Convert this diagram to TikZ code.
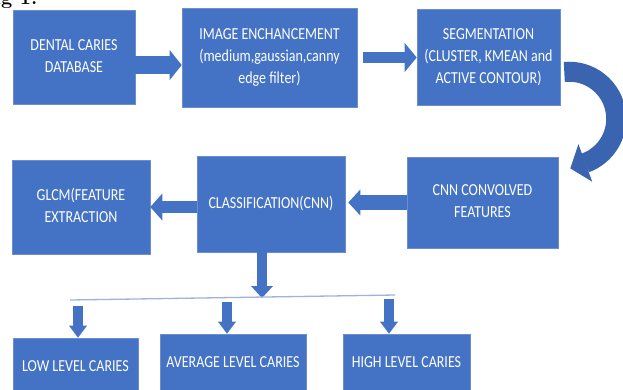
\documentclass[tikz,border=0pt]{standalone}
\usepackage{fontspec}
\usepackage{graphicx}
\setsansfont{Carlito}
\usetikzlibrary{arrows.meta,calc}
\definecolor{boxblue}{HTML}{4472C4}
\definecolor{boxedge}{HTML}{6C8ED0}
\definecolor{turnblue}{HTML}{3A64B0}
\definecolor{raillight}{HTML}{9CB3DF}
\newcommand{\tall}[1]{\scalebox{1}[1.2]{\begin{tabular}{@{}c@{}}#1\end{tabular}}}
\tikzset{stage/.style={rectangle,draw=boxedge,fill=boxblue,line width=.6pt,inner sep=0pt,text=white,font=\sffamily\fontsize{14}{18.3}\selectfont},flow/.style 2 args={draw=boxblue,line width=#1,-{Triangle[length=12pt,width=#2,line width=0pt]}},turn/.style={draw=turnblue,line width=20pt,-{Triangle[length=16pt,width=40pt,line width=0pt]}},rail/.style={raillight,line width=1.3pt}}

\begin{document}
\begin{tikzpicture}[x=1pt,y=-1pt]
\clip (0,0) rectangle (623,389);
\node[anchor=base east,font=\bfseries\fontsize{20}{20}\selectfont] (figlabel) at (41,4) {Fig 1.};
% top row
\node[stage,minimum width=122pt,minimum height=94pt] (db) at (74,57) {\tall{DENTAL CARIES\\DATABASE}};
\node[stage,minimum width=175pt,minimum height=99pt] (enh) at (269.5,57.5) {\tall{IMAGE ENCHANCEMENT\\(medium,gaussian,canny\\edge filter)}};
\node[stage,minimum width=143pt,minimum height=96pt] (seg) at (488.5,57) {\tall{SEGMENTATION\\(CLUSTER, KMEAN and\\ACTIVE CONTOUR)}};
% middle row
\node[stage,minimum width=151pt,minimum height=91pt] (cnn) at (482.5,202.5) {\tall{CNN CONVOLVED\\FEATURES}};
\node[stage,minimum width=148pt,minimum height=96pt] (cls) at (271,204) {\tall{CLASSIFICATION(CNN)}};
\node[stage,minimum width=138pt,minimum height=94pt] (glcm) at (81,207) {\tall{GLCM(FEATURE\\EXTRACTION}};
% bottom row
\node[stage,minimum width=125pt,minimum height=58pt] (low) at (75.5,367) {\tall{LOW LEVEL CARIES}};
\node[stage,minimum width=146pt,minimum height=58pt] (avg) at (233,363) {\tall{AVERAGE LEVEL CARIES}};
\node[stage,minimum width=127pt,minimum height=58pt] (high) at (406.5,363) {\tall{HIGH LEVEL CARIES}};
\coordinate (hub) at (262,298);
\coordinate (toLow) at (78,306);
\coordinate (toAvg) at (227,302);
\coordinate (toHigh) at (389,299);
\draw[flow={18pt}{30pt}] ([yshift=-8pt]db.east) -- ([yshift=-8pt]db.east -| enh.west);
\draw[flow={11pt}{29pt}] ([xshift=6pt]enh.east) -- (enh.east -| seg.west);
\draw[turn] ([xshift=4pt,yshift=-15pt]seg.east) arc[start angle=-96,end angle=70,radius=47] -- ++(-15,5.5);
\draw[flow={15pt}{26pt}] (cnn.west) -- ([xshift=3pt]cls.east |- cnn.west);
\draw[flow={12pt}{27pt}] ([yshift=-3pt]cls.west) -- ([yshift=-3pt]cls.west -| glcm.east);
\draw[flow={10pt}{22pt}] (hub |- cls.south) -- (hub);
\draw[rail] (70,300) -- (395,295);
\draw[flow={10pt}{18pt}] (toLow) -- (toLow |- low.north);
\draw[flow={10pt}{18pt}] (toAvg) -- (toAvg |- avg.north);
\draw[flow={10pt}{18pt}] (toHigh) -- (toHigh |- high.north);
\end{tikzpicture}
\end{document}
